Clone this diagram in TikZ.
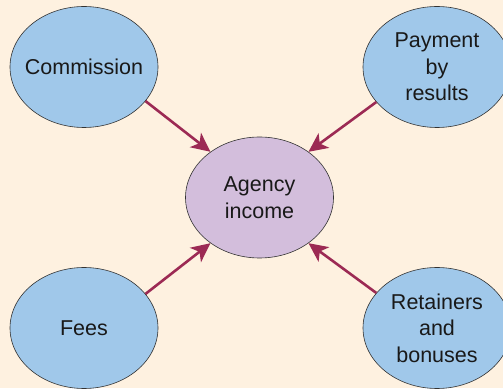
\documentclass[tikz,border=0pt]{standalone}
\usepackage{fontspec}
\setmainfont{Liberation Sans}
\usetikzlibrary{shapes.geometric,arrows.meta}

\definecolor{paper}{HTML}{FEF1E0}
\definecolor{bubble}{HTML}{A0C8EA}
\definecolor{centre}{HTML}{D3BEDC}
\definecolor{arrowred}{HTML}{9C2A54}

\tikzset{
  bubble/.style={ellipse, draw=black!80, line width=0.6pt, fill=bubble,
    minimum width=148pt, minimum height=121pt, inner sep=0pt},
  words/.style={align=center, inner sep=0pt, text=black!90,
    font=\fontsize{21.5}{26.5}\selectfont},
  feed/.style={draw=arrowred, line width=2.6pt, -{Stealth[length=19pt,width=18pt,inset=5pt]}}
}

\begin{document}
\begin{tikzpicture}[x=1pt,y=1pt]
        \useasboundingbox (0,0) rectangle (503,388);
        \clip (0,0) rectangle (503,388);
        \fill[paper] (0,0) rectangle (503,388);

        % the five bubbles
        \node[bubble] (comm) at (84,321) {};
        \node[bubble] (pay) at (437,321) {};
        \node[bubble, fill=centre] (income) at (259.5,190.5) {};
        \node[bubble] (fees) at (84,60) {};
        \node[bubble] (ret) at (437,60) {};

        \node[words] (comm-t) at (comm) {Commission};
        \node[words] (pay-t) at (pay) {Payment\\by\\results};
        \node[words] (income-t) at (income) {Agency\\income};
        \node[words] (fees-t) at (fees) {Fees};
        \node[words] (ret-t) at (ret) {Retainers\\and\\bonuses};

        % arrows into the middle
        \draw[feed] (comm.-29.5) -- (income.137);
        \draw[feed] (pay.-150.5) -- (income.43);
        \draw[feed] (fees.29.5) -- (income.-137);
        \draw[feed] (ret.150.5) -- (income.-43);

        \end{tikzpicture}
\end{document}
